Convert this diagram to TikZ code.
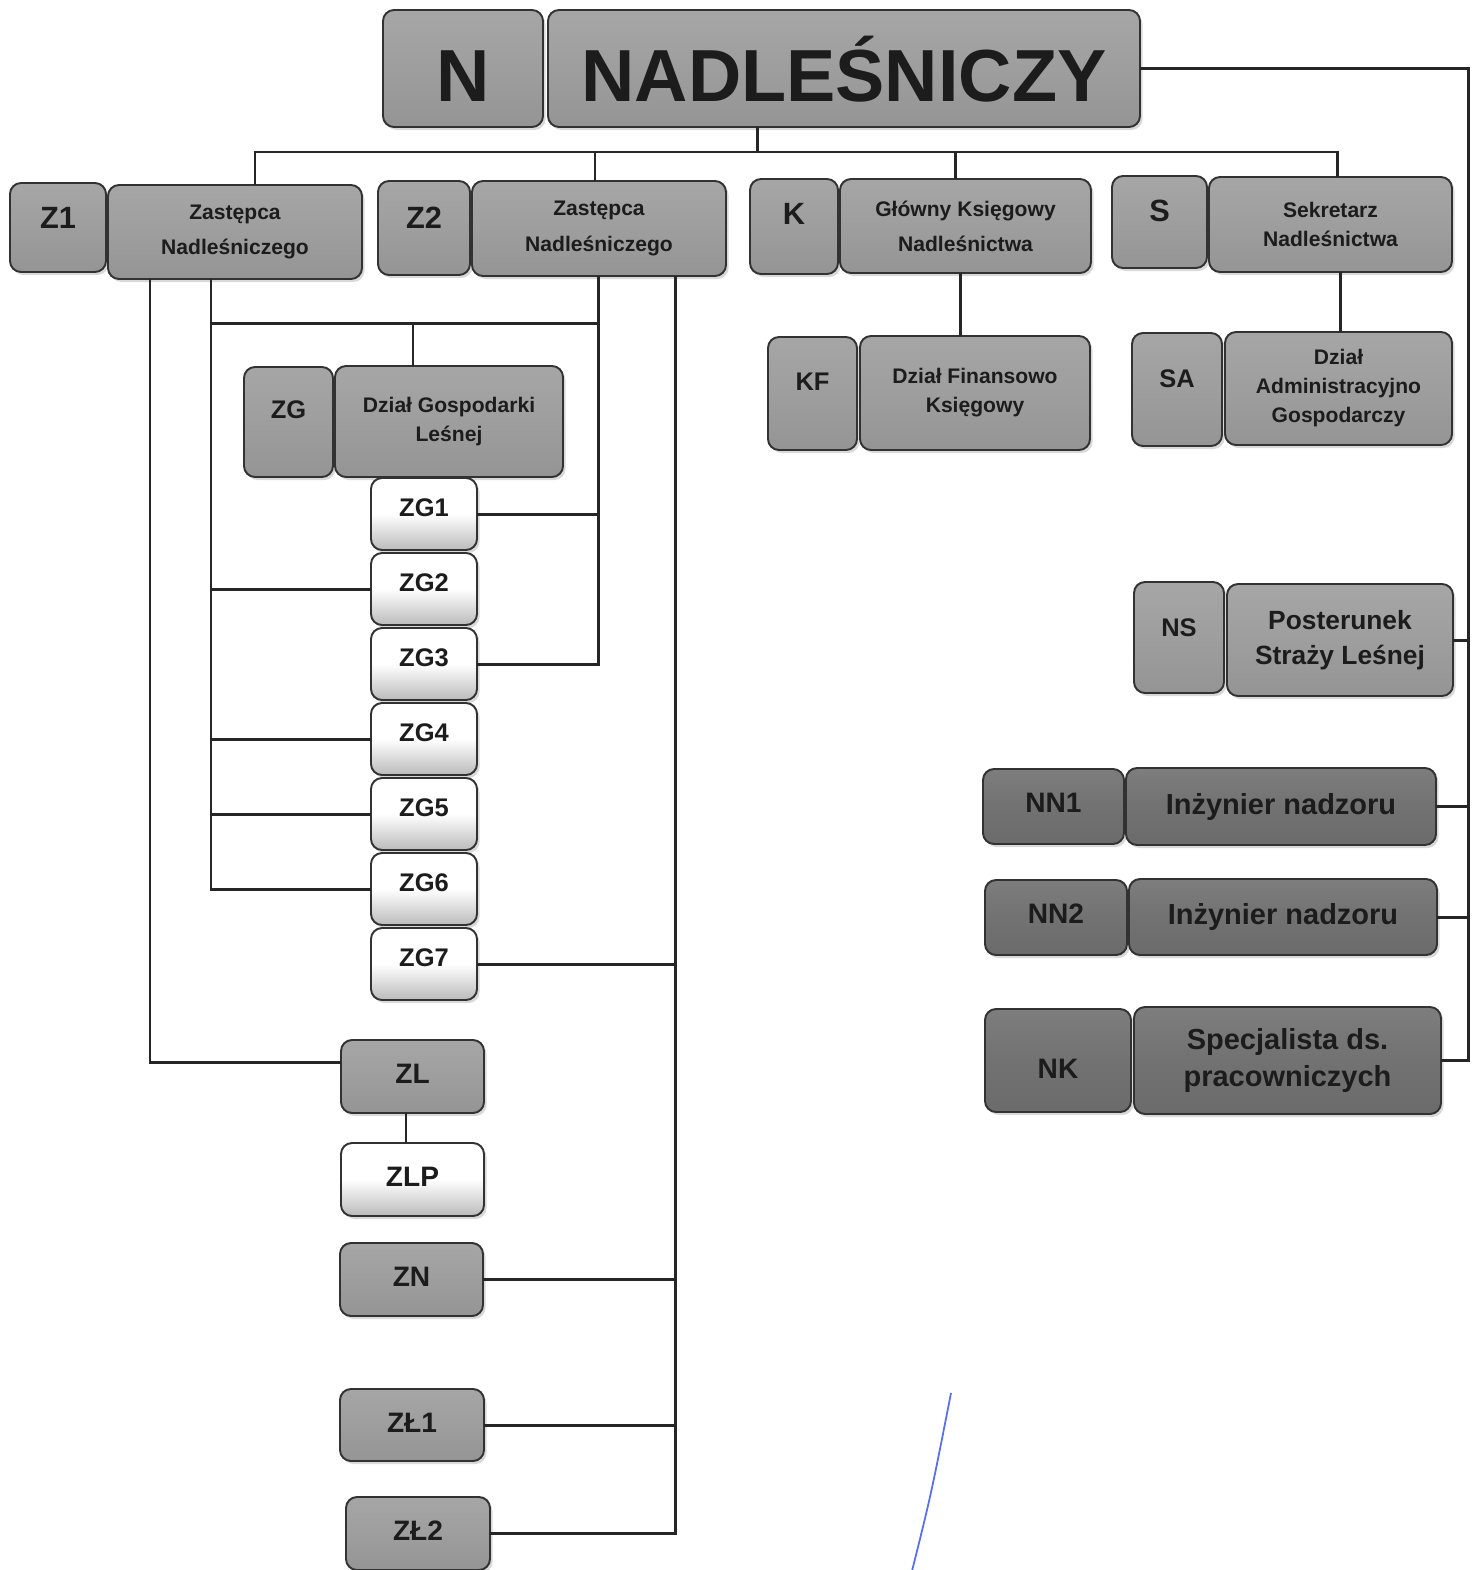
\documentclass[tikz,border=0pt]{standalone}
\usepackage{fontspec}
\setmainfont{Liberation Sans}
\usepackage{tikz}
\usetikzlibrary{shapes,positioning,shadows,calc}
\usepackage{xcolor}
\definecolor{orggray}{RGB}{158,158,158}
\definecolor{orgdark}{RGB}{114,114,114}
\definecolor{orgedge}{RGB}{50,50,50}
\definecolor{orgtext}{RGB}{28,28,28}
\definecolor{penblue}{RGB}{88,110,238}
\newcommand{\ftitle}{\fontsize{42}{48}\selectfont\bfseries}
\newcommand{\fcode}{\fontsize{17.5}{20}\selectfont\bfseries}
\newcommand{\fname}{\fontsize{12}{20}\selectfont\bfseries}
\newcommand{\fdept}{\fontsize{12}{16.5}\selectfont\bfseries}
\newcommand{\fsub}{\fontsize{14.5}{17}\selectfont\bfseries}
\newcommand{\fcell}{\fontsize{16}{19}\selectfont\bfseries}
\newcommand{\fpost}{\fontsize{15}{20}\selectfont\bfseries}
\newcommand{\fnadz}{\fontsize{16.5}{21}\selectfont\bfseries}
\tikzstyle{unit} = [draw=orgedge, line width=1.1pt, rounded corners=0.22cm, inner sep=0pt, outer sep=0pt, align=center, text=orgtext, drop shadow={opacity=0.3, shadow xshift=0.05cm, shadow yshift=-0.06cm}]
\tikzstyle{gunit} = [unit, top color=orggray!92!white, bottom color=orggray!94!black, middle color=orggray]
\tikzstyle{dunit} = [unit, top color=orgdark!92!white, bottom color=orgdark!94!black, middle color=orgdark]
\tikzstyle{wunit} = [unit, top color=white, bottom color=orggray!70, middle color=white]
\tikzstyle{link} = [line width=1.7pt, color=black!85]
\tikzset{dims/.style 2 args={minimum width=#1cm, minimum height=#2cm},
  lift/.style={text depth=#1cm}}

\begin{document}
\begin{tikzpicture}
\useasboundingbox (0,0) rectangle (29.6,-31.4);

% Nadlesniczy
\node[gunit, dims={3.2}{2.34}, font=\ftitle, text height=1.3cm, text depth=0cm] (N) at (9.26,-1.37) {N};
\node[gunit, dims={11.84}{2.34}, font=\ftitle, text height=1.3cm, text depth=0cm] (NAD) at (16.88,-1.37) {NADLEŚNICZY};

% Deputies, accountant, secretary
\node[gunit, dims={1.92}{1.78}, font=\fcode, lift=0.4] (Z1) at (1.16,-4.55) {Z1};
\node[gunit, dims={5.08}{1.88}, font=\fname] (Z1n) at (4.70,-4.64) {Zastępca\\Nadleśniczego};
\node[gunit, dims={1.84}{1.88}, font=\fcode, lift=0.4] (Z2) at (8.48,-4.56) {Z2};
\node[gunit, dims={5.08}{1.90}, font=\fname] (Z2n) at (11.98,-4.57) {Zastępca\\Nadleśniczego};
\node[gunit, dims={1.76}{1.90}, font=\fcode, lift=0.5] (K) at (15.88,-4.53) {K};
\node[gunit, dims={5.02}{1.88}, font=\fname] (Kn) at (19.31,-4.52) {Główny Księgowy\\Nadleśnictwa};
\node[gunit, dims={1.90}{1.84}, font=\fcode, lift=0.45] (S) at (23.19,-4.44) {S};
\node[gunit, dims={4.86}{1.90}, font=\fdept] (Sn) at (26.61,-4.49) {Sekretarz\\Nadleśnictwa};

% Departments
\node[gunit, dims={1.78}{2.26}, font=\fsub, lift=0.48] (KF) at (16.25,-7.87) {KF};
\node[gunit, dims={4.60}{2.28}, font=\fdept] (KFn) at (19.50,-7.86) {Dział Finansowo\\Księgowy};
\node[gunit, dims={1.80}{2.26}, font=\fsub, lift=0.44] (SA) at (23.54,-7.79) {SA};
\node[gunit, dims={4.54}{2.26}, font=\fdept] (SAn) at (26.77,-7.77) {Dział\\Administracyjno\\Gospodarczy};
\node[gunit, dims={1.78}{2.20}, font=\fsub, lift=0.48] (ZG) at (5.77,-8.44) {ZG};
\node[gunit, dims={4.56}{2.22}, font=\fdept] (ZGn) at (8.98,-8.43) {Dział Gospodarki\\Leśnej};

% Posts under the Nadlesniczy
\node[gunit, dims={1.80}{2.22}, font=\fsub, lift=0.4] (NS) at (23.58,-12.75) {NS};
\node[gunit, dims={4.52}{2.24}, font=\fpost] (NSn) at (26.80,-12.80) {Posterunek\\Straży Leśnej};
\node[dunit, dims={2.82}{1.50}, font=\fcell, lift=0.16] (NN1) at (21.07,-16.13) {NN1};
\node[dunit, dims={6.20}{1.54}, font=\fnadz] (NN1n) at (25.62,-16.13) {Inżynier nadzoru};
\node[dunit, dims={2.84}{1.50}, font=\fcell, lift=0.16] (NN2) at (21.12,-18.35) {NN2};
\node[dunit, dims={6.16}{1.52}, font=\fnadz] (NN2n) at (25.66,-18.34) {Inżynier nadzoru};
\node[dunit, dims={2.92}{2.06}, font=\fcell, text height=0.72cm] (NK) at (21.16,-21.21) {NK};
\node[dunit, dims={6.14}{2.14}, font=\fnadz] (NKn) at (25.75,-21.21) {Specjalista ds.\\pracowniczych};

% Forest management posts
\node[wunit, dims={2.12}{1.44}, font=\fsub, lift=0.24] (ZG1) at (8.48,-10.28) {ZG1};
\node[wunit, dims={2.12}{1.44}, font=\fsub, lift=0.24] (ZG2) at (8.48,-11.78) {ZG2};
\node[wunit, dims={2.12}{1.44}, font=\fsub, lift=0.24] (ZG3) at (8.48,-13.28) {ZG3};
\node[wunit, dims={2.12}{1.44}, font=\fsub, lift=0.24] (ZG4) at (8.48,-14.78) {ZG4};
\node[wunit, dims={2.12}{1.44}, font=\fsub, lift=0.24] (ZG5) at (8.48,-16.28) {ZG5};
\node[wunit, dims={2.12}{1.44}, font=\fsub, lift=0.24] (ZG6) at (8.48,-17.78) {ZG6};
\node[wunit, dims={2.12}{1.44}, font=\fsub, lift=0.24] (ZG7) at (8.48,-19.28) {ZG7};

% Lower posts
\node[gunit, dims={2.86}{1.46}, font=\fcell, lift=0.1] (ZL) at (8.25,-21.53) {ZL};
\node[wunit, dims={2.86}{1.46}, font=\fcell, lift=0.1] (ZLP) at (8.25,-23.59) {ZLP};
\node[gunit, dims={2.86}{1.46}, font=\fcell, lift=0.1] (ZN) at (8.23,-25.59) {ZN};
\node[gunit, dims={2.88}{1.44}, font=\fcell, lift=0.1] (ZL1) at (8.24,-28.50) {ZŁ1};
\node[gunit, dims={2.88}{1.46}, font=\fcell, lift=0.1] (ZL2) at (8.36,-30.67) {ZŁ2};

% Top bus
\coordinate (bus) at (15.14,-3.04);
\coordinate (busL) at (5.10,-3.04);
\coordinate (busB) at (11.90,-3.04);
\coordinate (busC) at (19.10,-3.04);
\coordinate (busR) at (26.74,-3.04);
\draw[link] (NAD.south -| bus) -- (bus);
\draw[link] (Z1n.north -| busL) -- (busL) -- (busR) -- (Sn.north -| busR);
\draw[link] (busB) -- (Z2n.north -| busB);
\draw[link] (busC) -- (Kn.north -| busC);

% Right side line
\coordinate (rt) at (29.36,-1.37);
\draw[link] (NAD.east) -- (rt) -- (NKn.east -| rt) -- (NKn.east);
\draw[link] (NSn.east) -- (NSn.east -| rt);
\draw[link] (NN1n.east) -- (NN1n.east -| rt);
\draw[link] (NN2n.east) -- (NN2n.east -| rt);

% Accountant and secretary
\coordinate (kd) at (19.20,-6);
\coordinate (sd) at (26.80,-6);
\draw[link] (Kn.south -| kd) -- (KFn.north -| kd);
\draw[link] (Sn.south -| sd) -- (SAn.north -| sd);

% Deputies lines
\coordinate (za) at (3.00,-6);
\coordinate (zb) at (4.22,-6.46);
\coordinate (zc) at (11.96,-6.46);
\coordinate (zd) at (13.50,-6);
\coordinate (zg) at (8.26,-6.46);
\coordinate (zl) at (8.12,-22);
\draw[link] (Z1n.south -| za) |- ($(ZL.west)+(0,0.28)$);
\draw[link] (Z1n.south -| zb) |- (ZG6.west);
\draw[link] (zb) -- (zc);
\draw[link] (zg) -- (ZGn.north -| zg);
\draw[link] (ZG2.west) -- (ZG2.west -| zb);
\draw[link] (ZG4.west) -- (ZG4.west -| zb);
\draw[link] (ZG5.west) -- (ZG5.west -| zb);
\draw[link] (Z2n.south -| zc) |- (ZG3.east);
\draw[link] (ZG1.east) -- (ZG1.east -| zc);
\draw[link] (Z2n.south -| zd) |- (ZL2.east);
\draw[link] (ZG7.east) -- (ZG7.east -| zd);
\draw[link] (ZN.east) -- (ZN.east -| zd);
\draw[link] (ZL1.east) -- (ZL1.east -| zd);
\draw[link] (ZL.south -| zl) -- (ZLP.north -| zl);

% pen mark
\draw[penblue, line width=1pt] (19.02,-27.86) .. controls (18.62,-29.9) .. (18.22,-31.5);
\end{tikzpicture}
\end{document}
